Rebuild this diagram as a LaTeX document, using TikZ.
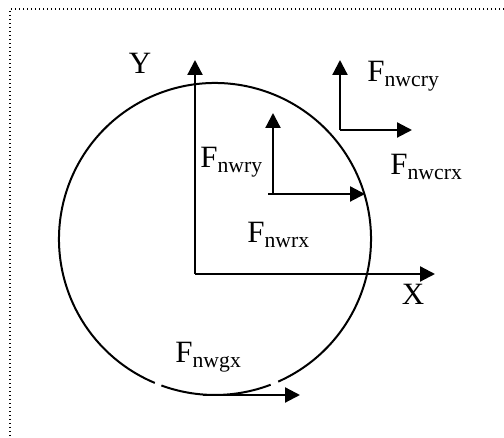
\documentclass[tikz,border=0pt]{standalone}
\usepackage{fontspec}
\setmainfont{Liberation Serif}
\usepackage{tikz}
\usetikzlibrary{arrows.meta}

\begin{document}
\begin{tikzpicture}[x=0.5pt,y=0.5pt,
    vec/.style={line width=1.1pt,-{Triangle[length=7.5pt,width=7.5pt]}},
    lbl/.style={inner sep=0pt,anchor=base west,font=\fontsize{15.5}{18}\selectfont}]
  \useasboundingbox (0,0) rectangle (504,438);
  % dotted frame (top and left only)
  \draw[line width=0.65pt,dash pattern=on 0.5pt off 1.5pt] (504,429) -- (10,429) -- (10,0);
  % wheel, with two small breaks at the bottom
  \draw[line width=1pt] (215,199) ++(249.9:156) arc[start angle=249.9,end angle=290.9,radius=156];
  \draw[line width=1pt] (215,199) ++(293.9:156) arc[start angle=293.9,end angle=607.3,radius=156];
  % axes
  \coordinate (O) at (195,164);
  \coordinate (Ytip) at (195,378);
  \coordinate (Xtip) at (435,164);
  \draw[vec] (O) -- (Ytip);
  \draw[vec] (O) -- (Xtip);
  \node[lbl,anchor=center] (ylab) at (140,375) {Y};
  \node[lbl,anchor=center] (xlab) at (413,144) {X};
  % reaction force at the centre
  \coordinate (nwr) at (273,244);
  \coordinate (nwrs) at (268,244);
  \coordinate (nwry) at (273,325);
  \coordinate (nwrx) at (365,244);
  \draw[vec] (nwr) -- (nwry);
  \draw[vec] (nwrs) -- (nwrx);
  \node[lbl] (Fnwry) at (200,270) {F\textsubscript{nwry}};
  \node[lbl] (Fnwrx) at (247,195) {F\textsubscript{nwrx}};
  % force at the contact point
  \coordinate (nwcr) at (340,308);
  \coordinate (nwcry) at (340,378);
  \coordinate (nwcrx) at (412,308);
  \draw[vec] (nwcr) -- (nwcry);
  \draw[vec] (nwcr) -- (nwcrx);
  \node[lbl] (Fnwcry) at (367,356) {F\textsubscript{nwcry}};
  \node[lbl] (Fnwcrx) at (390,263) {F\textsubscript{nwcrx}};
  % ground force
  \coordinate (nwg) at (203,43);
  \coordinate (nwgx) at (300,43);
  \draw[vec] (nwg) -- (nwgx);
  \node[lbl] (Fnwgx) at (175,75) {F\textsubscript{nwgx}};
\end{tikzpicture}
\end{document}
